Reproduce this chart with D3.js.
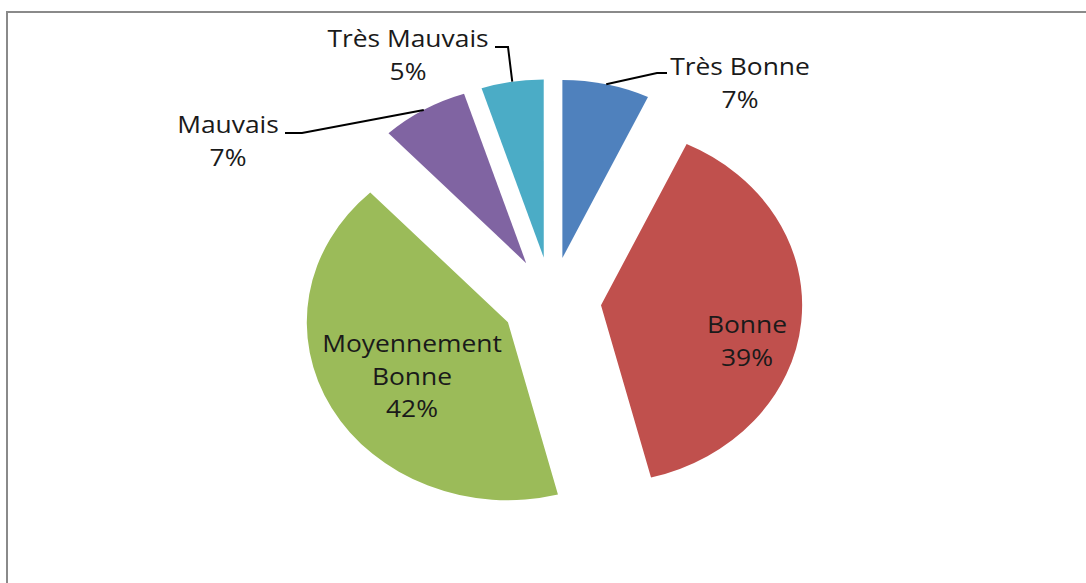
<!DOCTYPE html>
<html>
<head>
<meta charset="utf-8">
<script src="https://cdn.jsdelivr.net/npm/d3@7"></script>
<style>
  body { margin: 0; background: #fff; }
  svg { display: block; }
</style>
</head>
<body>
<div id="chart"></div>
<script>
// données
const categories = ["Très Bonne", "Bonne", "Moyennement Bonne", "Mauvais", "Très Mauvais"];
const values = [7, 39, 42, 7, 5];
const colors = ["#4f81bd", "#c0504d", "#9bbb59", "#8064a2", "#4bacc6"];

// placement des étiquettes (lignes de texte, centre x, première ligne y)
const labelLines = [["Très Bonne", "7%"], ["Bonne", "39%"], ["Moyennement", "Bonne", "42%"], ["Mauvais", "7%"], ["Très Mauvais", "5%"]];
const labelPos = [[740, 75], [747, 333], [412, 352], [228, 133], [408, 47]];
// lignes de rappel : points fixes côté texte (null = pas de ligne)
const leaderText = [[[667, 73], [657, 73]], null, null, [[285, 133], [302, 133]], [[495, 47], [508, 47]]];

const width = 1086, height = 583;
const cx = 551.5, cy = 301;
const r = 178, sx = 1.13, explode = 44;
const lineH = 32.5;

const svg = d3.select("#chart").append("svg")
    .attr("width", width).attr("height", height);

// cadre
svg.append("rect")
    .attr("x", 7).attr("y", 12)
    .attr("width", width + 20).attr("height", height + 20)
    .attr("fill", "none")
    .attr("stroke", "#8a8a8a")
    .attr("stroke-width", 2);

const data = categories.map((c, i) => ({ cat: c, value: values[i], i }));
const pie = d3.pie().value(d => d.value).sort(null);
const arcs = pie(data);
const arc = d3.arc().innerRadius(0).outerRadius(r);

const g = svg.append("g")
    .attr("transform", `translate(${cx},${cy}) scale(${sx},1)`);

g.selectAll("path")
    .data(arcs)
    .join("path")
    .attr("transform", d => {
        const m = (d.startAngle + d.endAngle) / 2;
        return `translate(${Math.sin(m) * explode},${-Math.cos(m) * explode})`;
    })
    .attr("d", arc)
    .attr("fill", d => colors[d.data.i]);

// point de l'arc au milieu de la part (en coordonnées écran)
function arcMid(d) {
    const m = (d.startAngle + d.endAngle) / 2;
    return [cx + Math.sin(m) * (explode + r) * sx, cy - Math.cos(m) * (explode + r)];
}

const line = d3.line();
arcs.forEach((d, i) => {
    const pts = leaderText[i];
    if (!pts) return;
    svg.append("path")
        .attr("d", line([...pts, arcMid(d)]))
        .attr("fill", "none")
        .attr("stroke", "#000")
        .attr("stroke-width", 2);
});

// étiquettes
arcs.forEach((d, i) => {
    const [x, y] = labelPos[i];
    labelLines[i].forEach((t, k) => {
        svg.append("text")
            .attr("transform", `translate(${x},${y + k * lineH}) scale(1.1,1)`)
            .attr("text-anchor", "middle")
            .style("font-family", "'Open Sans', sans-serif")
            .style("font-size", "24px")
            .style("fill", "#1a1a1a")
            .text(t);
    });
});
</script>
</body>
</html>
